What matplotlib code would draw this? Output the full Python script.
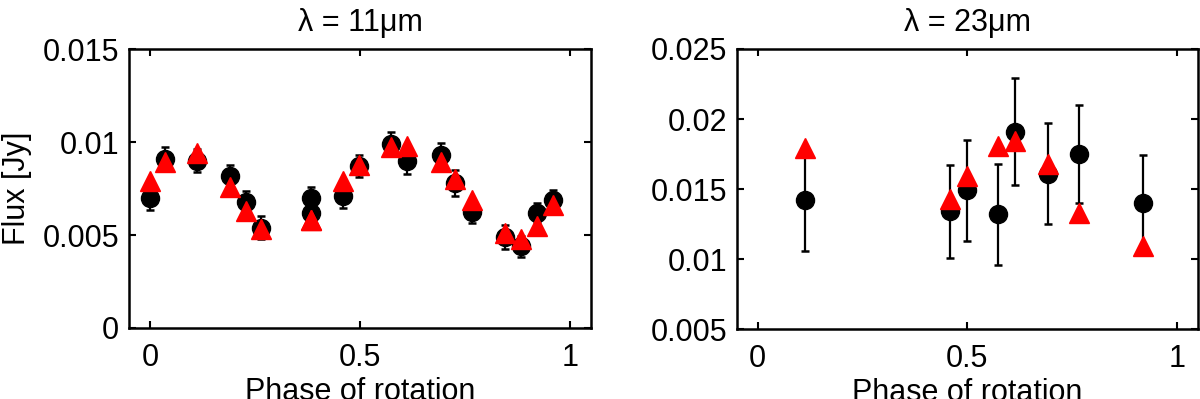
import matplotlib
matplotlib.use("Agg")
import matplotlib.pyplot as plt
from matplotlib.ticker import FuncFormatter

plt.rcParams["font.family"] = ["Liberation Sans", "DejaVu Sans"]

# 11 micron data
phase_11 = [0.0, 0.036, 0.112, 0.191, 0.229, 0.264, 0.383, 0.383, 0.459, 0.498,
            0.574, 0.613, 0.693, 0.726, 0.767, 0.845, 0.883, 0.921, 0.959]
flux_11 = [0.0070, 0.0091, 0.0090, 0.0082, 0.0068, 0.0054, 0.0070, 0.0062, 0.0071, 0.0087,
           0.0099, 0.0090, 0.0093, 0.0078, 0.00625, 0.0049, 0.0044, 0.0062, 0.0069]
err_11 = [0.00063, 0.00063, 0.0006, 0.00058, 0.00057, 0.0006, 0.0006, 0.0006, 0.00064, 0.0006,
          0.00066, 0.0007, 0.00063, 0.00068, 0.0006, 0.00063, 0.00057, 0.0005, 0.00054]
model_11 = [0.0079, 0.0089, 0.0094, 0.0076, 0.0063, 0.0053, 0.0058, 0.0058, 0.0079, 0.00875,
            0.00975, 0.0098, 0.0089, 0.0080, 0.0069, 0.0051, 0.0048, 0.0055, 0.0066]

# 23 micron data
phase_23 = [0.112, 0.458, 0.499, 0.573, 0.613, 0.692, 0.767, 0.920]
flux_23 = [0.0142, 0.0134, 0.0149, 0.0132, 0.0191, 0.0161, 0.0175, 0.0140]
err_23 = [0.0036, 0.0033, 0.0036, 0.0036, 0.0038, 0.0036, 0.0035, 0.0034]
model_23 = [0.0179, 0.0143, 0.0159, 0.0181, 0.0184, 0.0168, 0.0133, 0.0109]

FS = 22


def style_axis(ax, xticks, yticks):
    ax.set_xlim(-0.05, 1.05)
    ax.set_xticks(xticks)
    ax.set_yticks(yticks)
    fmt = FuncFormatter(lambda v, p: f"{v:g}")
    ax.xaxis.set_major_formatter(fmt)
    ax.yaxis.set_major_formatter(fmt)
    ax.tick_params(direction="in", top=True, right=True, length=5, width=1.5,
                   labelsize=FS)
    ax.tick_params(axis="x", pad=11)
    ax.tick_params(axis="y", pad=7)
    for s in ax.spines.values():
        s.set_linewidth(1.8)
    ax.set_xlabel("Phase of rotation", fontsize=FS, labelpad=3)


def draw(ax, phase, flux, err, model):
    ax.errorbar(phase, flux, yerr=err, fmt="o", color="black", ms=13,
                elinewidth=1.6, capsize=3, capthick=1.8, zorder=2)
    ax.plot(phase, model, "^", color="red", ms=14.5, zorder=3)


fig = plt.figure(figsize=(12, 3.99), dpi=100)
ax1 = fig.add_axes([0.1075, 0.178, 0.385, 0.699])
ax2 = fig.add_axes([0.614, 0.1754, 0.384, 0.7018])

draw(ax1, phase_11, flux_11, err_11, model_11)
ax1.set_ylim(0, 0.015)
style_axis(ax1, [0, 0.5, 1], [0, 0.005, 0.01, 0.015])
ax1.set_ylabel("Flux [Jy]", fontsize=FS, labelpad=8)
ax1.set_title("λ = 11μm", fontsize=FS, pad=13)

draw(ax2, phase_23, flux_23, err_23, model_23)
ax2.set_ylim(0.005, 0.025)
style_axis(ax2, [0, 0.5, 1], [0.005, 0.01, 0.015, 0.02, 0.025])
ax2.set_title("λ = 23μm", fontsize=FS, pad=13)

fig.savefig("out.png", dpi=100)
